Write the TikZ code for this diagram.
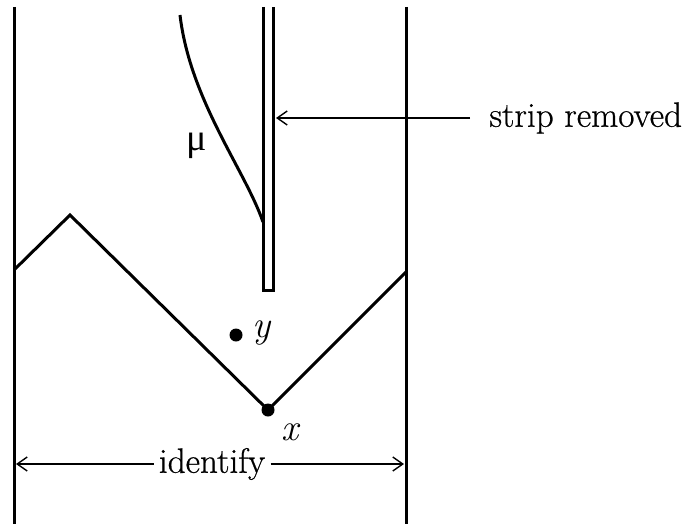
\documentclass[tikz,border=0pt]{standalone}
\usepackage{fontspec}
\setmainfont{Latin Modern Roman}
\newfontfamily\greekfont{Liberation Serif}
\usetikzlibrary{arrows.meta,positioning}

\begin{document}
\begin{tikzpicture}[
  x=0.5pt, y=-0.5pt,
  wall/.style={line width=1.5pt},
  lbl/.style={font=\fontsize{17.6}{21}\selectfont\addfontfeatures{FakeBold=0.6}, inner sep=2.5pt},
  ptr/.style={-{Straight Barb[length=5pt,width=7pt]}, line width=0.7pt},
  dot/.style={circle, fill, inner sep=0pt, minimum size=6.5pt},
]
  \useasboundingbox (0,0) rectangle (688,524);
  % side walls, to be identified
  \draw[wall] (14,7) -- (14,524);
  \draw[wall] (406,7) -- (406,524);
  % the removed strip
  \draw[wall] (263,7) -- (263,290) -- (273,290) -- (273,7);
  % zigzag
  \draw[wall] (14,270) -- (70,215) -- (268,410) -- (406,272);
  % curve mu
  \draw[wall] (180,15) .. controls (190,100) and (245,170) .. (263,222);
  \node[font=\fontsize{19}{22}\selectfont\greekfont] (mu) at (197,146) {μ};
  % points
  \node[dot] (px) at (268,410) {};
  \node[dot] (py) at (236,335) {};
  \node[lbl, font=\fontsize{19}{22}\selectfont\itshape] (xl) at (290,432) {x};
  \node[lbl, font=\fontsize{19}{22}\selectfont\itshape] (yl) at (262,333) {y};
  % labels and arrows
  \node[lbl, anchor=west] (strip) at (484,118) {strip removed};
  \coordinate (stripR) at (276,118);
  \draw[ptr] (strip.west) ++(-14,0) coordinate (sa) -- (stripR);
  \node[lbl] (ident) at (212,464) {identify};
  \coordinate (wallL) at (16,464);
  \coordinate (wallR) at (404,464);
  \draw[ptr] (ident.west) -- (wallL);
  \draw[ptr] (ident.east) -- (wallR);
\end{tikzpicture}
\end{document}
